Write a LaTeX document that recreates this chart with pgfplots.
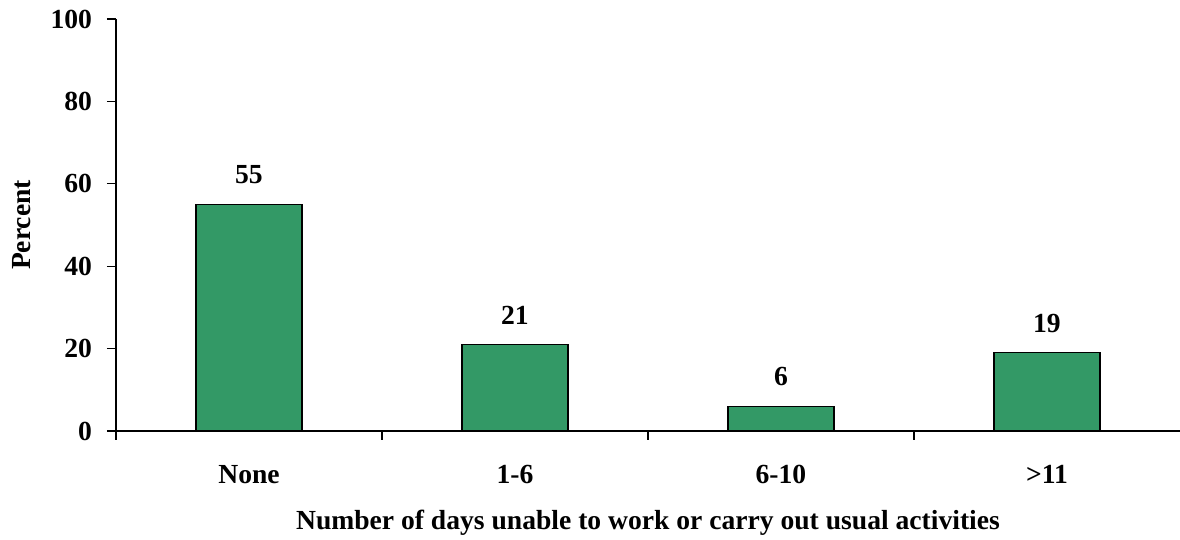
\documentclass[border=0pt]{standalone}
\usepackage{fontspec}
\setmainfont{Liberation Serif}
\usepackage{pgfplots}
\pgfplotsset{compat=1.18}
\definecolor{barfill}{HTML}{339966}
\newcommand{\chartfont}{\fontsize{13.8}{16}\selectfont\bfseries}
\begin{document}
\begin{tikzpicture}[x=1pt,y=1pt]
\path[use as bounding box] (-124.5,-54.5) rectangle (465.5,215.5);
\begin{axis}[
  at={(0,0)}, anchor=origin,
  scale only axis,
  width=532pt, height=206pt,
  xmin=-0.5, xmax=3.5,
  ymin=0, ymax=100,
  axis x line*=bottom, axis y line*=left,
  axis line style={black, line width=0.6pt},
  every axis plot/.append style={line width=0.6pt},
  xtick={-0.5,0.5,1.5,2.5},
  xticklabels={},
  extra x ticks={0,1,2,3},
  extra x tick labels={None,1-6,6-10,>11},
  extra x tick style={major tick length=0pt, tick style={draw=none},
     xticklabel style={yshift=-13.7pt}},
  ytick={0,20,40,60,80,100},
  tick align=outside,
  major tick length=4.5pt,
  tick style={black, line width=0.6pt},
  /pgf/number format/assume math mode=true,
  tick label style={font=\chartfont},
  yticklabel style={xshift=-4pt},
  xlabel={Number of days unable to work or carry out usual activities},
  xlabel style={font=\chartfont, at={(axis description cs:0.5,-0.174)}, anchor=north},
  ylabel={Percent},
  ylabel style={font=\chartfont, at={(axis description cs:-0.0733,0.5)}, anchor=south},
  clip=false,
]
\addplot[ybar, bar width=53pt, fill=barfill, draw=black,
  nodes near coords, nodes near coords style={font=\chartfont, yshift=6.5pt}]
  coordinates {(0,55) (1,21) (2,6) (3,19)};
\end{axis}
\end{tikzpicture}
\end{document}
